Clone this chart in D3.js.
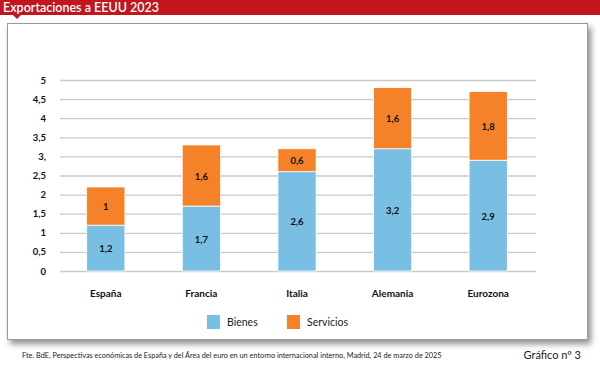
<!DOCTYPE html>
<html><head><meta charset="utf-8">
<script src="https://cdn.jsdelivr.net/npm/d3@7"></script>
<style>body{margin:0;background:#fff;}svg{display:block;}</style>
</head><body>
<svg id="c" width="600" height="366"></svg>
<script>
const categories = ["España", "Francia", "Italia", "Alemania", "Eurozona"];
const bienes = [1.2, 1.7, 2.6, 3.2, 2.9];
const servicios = [1.0, 1.6, 0.6, 1.6, 1.8];
const tickValues = [0, 0.5, 1, 1.5, 2, 2.5, 3, 3.5, 4, 4.5, 5];
const tickLabels = ["0", "0,5", "1", "1,5", "2", "2,5", "3,", "3,5", "4", "4,5", "5"];
const seriesNames = ["Bienes", "Servicios"];
const title = "Exportaciones a EEUU 2023";
const source = "Fte. BdE, Perspectivas económicas de España y del Área del euro en un entorno internacional interno, Madrid, 24 de marzo de 2025";
const chartNo = "Gráfico nº 3";

const colors = {Bienes: "#79bfe3", Servicios: "#f58229"};
const font = "Lato, 'Noto Sans', sans-serif";
const svg = d3.select("#c");

// shadow
const defs = svg.append("defs");
const f = defs.append("filter").attr("id", "sh").attr("x", "-5%").attr("y", "-5%").attr("width", "115%").attr("height", "120%");
f.append("feGaussianBlur").attr("in", "SourceAlpha").attr("stdDeviation", 3);
f.append("feOffset").attr("dx", 3).attr("dy", 4).attr("result", "o");
f.append("feComponentTransfer").append("feFuncA").attr("type", "linear").attr("slope", 0.45);
const m = f.append("feMerge"); m.append("feMergeNode"); m.append("feMergeNode").attr("in", "SourceGraphic");

// header
svg.append("rect").attr("x", 0).attr("y", 0).attr("width", 600).attr("height", 15).attr("fill", "#c2161d");
svg.append("path").attr("d", "M13,15 L21,15 L17,19 Z").attr("fill", "#c2161d");
svg.append("text").attr("x", 3).attr("y", 11.5).text(title)
  .attr("fill", "#fff").attr("font-family", font).attr("font-size", 12.5).attr("font-weight", 600);

// panel
svg.append("rect").attr("x", 7.5).attr("y", 23.5).attr("width", 580).attr("height", 316)
  .attr("fill", "#fff").attr("stroke", "#9a9a9a").attr("stroke-width", 1).attr("filter", "url(#sh)");

const y = d3.scaleLinear().domain([0, 5]).range([271, 80]);
const x = d3.scaleBand().domain(categories).range([58, 536]).paddingInner(0.6).paddingOuter(0.3);

// grid
const yAxis = d3.axisLeft(y).tickValues(tickValues).tickSize(-(536 - 60)).tickFormat((d, i) => tickLabels[i]);
const ga = svg.append("g").attr("transform", "translate(60,0)").call(yAxis);
ga.select(".domain").remove();
ga.selectAll(".tick line").attr("stroke", "#c9c9c9").attr("stroke-width", 1.3);
ga.selectAll(".tick text").attr("x", -14).attr("fill", "#111").attr("font-family", font)
  .attr("font-size", 9.5).attr("font-weight", 700);

// stacked bars
const rows = categories.map((c, i) => ({cat: c, Bienes: bienes[i], Servicios: servicios[i]}));
const stack = d3.stack().keys(seriesNames)(rows);
const fmt = v => String(v).replace(".", ",");
stack.forEach(layer => {
  const g = svg.append("g");
  g.selectAll("rect").data(layer).join("rect")
    .attr("x", d => x(d.data.cat)).attr("width", x.bandwidth())
    .attr("y", d => y(d[1])).attr("height", d => y(d[0]) - y(d[1]))
    .attr("fill", colors[layer.key]).attr("stroke", "#fff").attr("stroke-width", 0.8);
  g.selectAll("text").data(layer).join("text")
    .attr("x", d => x(d.data.cat) + x.bandwidth() / 2)
    .attr("y", d => (y(d[0]) + y(d[1])) / 2 + 4)
    .attr("text-anchor", "middle").attr("font-family", font).attr("font-size", 9.5)
    .attr("font-weight", 700).attr("fill", "#111")
    .text(d => fmt(d.data[layer.key]));
});

// category labels
const xAxis = d3.axisBottom(x).tickSize(0);
const gx = svg.append("g").attr("transform", "translate(0,287)").call(xAxis);
gx.select(".domain").remove();
gx.selectAll("text").attr("font-family", font).attr("font-size", 10).attr("font-weight", 700)
  .attr("fill", "#111").attr("dy", "0.71em");

// legend
const legX = [207, 287];
seriesNames.forEach((s, i) => {
  svg.append("rect").attr("x", legX[i]).attr("y", 315).attr("width", 13).attr("height", 14).attr("fill", colors[s]);
  svg.append("text").attr("x", legX[i] + 20).attr("y", 326).text(s)
    .attr("font-family", font).attr("font-size", 10.5).attr("fill", "#222");
});

// footer
svg.append("text").attr("x", 22).attr("y", 358).text(source)
  .attr("font-family", font).attr("font-size", 7.3).attr("fill", "#222");
svg.append("text").attr("x", 581).attr("y", 359).attr("text-anchor", "end").text(chartNo)
  .attr("font-family", font).attr("font-size", 11).attr("fill", "#222");
</script>
</body></html>
